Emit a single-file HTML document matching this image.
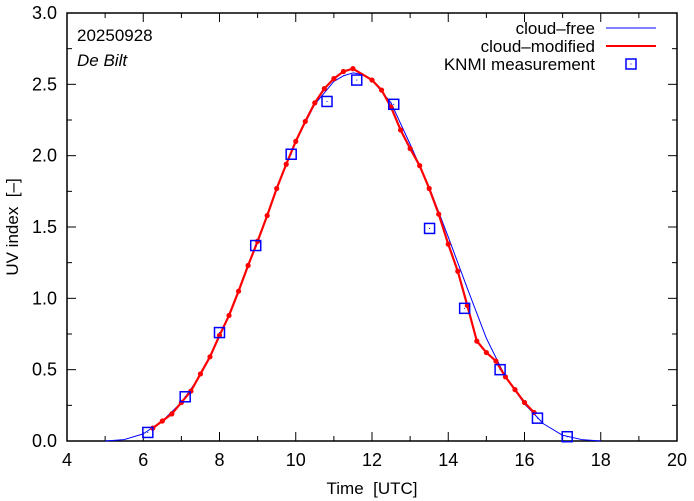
<!DOCTYPE html>
<html><head><meta charset="utf-8"><style>
html,body{margin:0;padding:0;background:#fff;}
svg{display:block;font-family:"Liberation Sans",sans-serif;}
</style></head><body>
<svg id="chart" width="694" height="501" viewBox="0 0 694 501" xmlns="http://www.w3.org/2000/svg">
<rect x="0" y="0" width="694" height="501" fill="#fff"/>
<g id="axes"></g>
<g id="series"></g>
<text x="77" y="41" font-size="17" fill="#000">20250928</text>
<text x="77" y="66" font-size="17" font-style="italic" fill="#000">De Bilt</text>
<text x="372" y="494" font-size="17" text-anchor="middle" fill="#000" xml:space="preserve">Time  [UTC]</text>
<text transform="translate(18,227) rotate(-90)" font-size="17" text-anchor="middle" fill="#000" xml:space="preserve">UV index  [–]</text>
<g>
<text x="595" y="34" font-size="17" text-anchor="end">cloud–free</text>
<line x1="606" y1="28" x2="656" y2="28" stroke="#0000ff" stroke-width="1"/>
<text x="595" y="52" font-size="17" text-anchor="end">cloud–modified</text>
<line x1="606" y1="46" x2="656" y2="46" stroke="#ff0000" stroke-width="2"/>
<text x="595" y="70" font-size="17" text-anchor="end">KNMI measurement</text>
<rect x="626" y="59" width="10" height="10" fill="none" stroke="#0000ff" stroke-width="1.5"/>
<rect x="630.5" y="63.5" width="1" height="1" fill="#0000ff"/>
</g>
</svg>
<script>
const xTicks=[4,6,8,10,12,14,16,18,20];
const yTicks=[0.0,0.5,1.0,1.5,2.0,2.5,3.0];
const clearTimes=[5.0,5.5,6.0,6.5,7.0,7.5,8.0,8.5,9.0,9.5,10.0,10.5,11.0,11.25,11.5,11.75,12.0,12.5,13.0,13.5,14.0,14.5,15.0,15.5,16.0,16.5,17.0,17.5,18.0];
const clearUV=[0.0,0.01,0.05,0.14,0.27,0.46,0.73,1.05,1.40,1.77,2.10,2.36,2.52,2.56,2.58,2.57,2.53,2.37,2.08,1.78,1.43,1.07,0.72,0.45,0.26,0.12,0.04,0.01,0.0];
const cloudTimes=[6.25,6.5,6.75,7.0,7.25,7.5,7.75,8.0,8.25,8.5,8.75,9.0,9.25,9.5,9.75,10.0,10.25,10.5,10.75,11.0,11.25,11.5,12.0,12.25,12.5,12.75,13.0,13.25,13.5,13.75,14.0,14.25,14.5,14.75,15.0,15.25,15.5,15.75,16.0,16.25];
const cloudUV=[0.09,0.14,0.19,0.27,0.35,0.47,0.59,0.74,0.88,1.05,1.23,1.40,1.58,1.77,1.94,2.10,2.24,2.37,2.47,2.54,2.59,2.61,2.53,2.46,2.34,2.18,2.05,1.93,1.77,1.59,1.38,1.19,0.95,0.70,0.62,0.56,0.45,0.36,0.27,0.20];
const measTimes=[6.12,7.10,8.0,8.95,9.88,10.82,11.6,12.57,13.51,14.43,15.36,16.34,17.12];
const measUV=[0.06,0.31,0.76,1.37,2.01,2.38,2.53,2.36,1.49,0.93,0.50,0.16,0.03];

const L=67,R=677,T=13,B=441;
const xS=v=>L+(v-4)/16*(R-L);
const yS=v=>B-v/3*(B-T);
const NS='http://www.w3.org/2000/svg';
function mk(tag,attrs,parent){const e=document.createElementNS(NS,tag);for(const k in attrs)e.setAttribute(k,attrs[k]);parent.appendChild(e);return e;}
const axes=document.getElementById('axes');
const series=document.getElementById('series');
for(let v=4;v<=20;v+=1){
  const x=xS(v);const len=(v%2===0)?9:5;
  const t1=mk('line',{x1:x,y1:B,x2:x,y2:B-len,stroke:'#000','stroke-width':1},axes);
  
  
  const t2=mk('line',{x1:x,y1:T,x2:x,y2:T+len,stroke:'#000','stroke-width':1},axes);
  
  
}
for(let i=0;i<=12;i++){
  const v=i*0.25;const y=yS(v);const len=(i%2===0)?9:5;
  const t1=mk('line',{x1:L,y1:y,x2:L+len,y2:y,stroke:'#000','stroke-width':1},axes);
  
  
  const t2=mk('line',{x1:R,y1:y,x2:R-len,y2:y,stroke:'#000','stroke-width':1},axes);
  
  
}
xTicks.forEach(v=>{
  const t=mk('text',{x:xS(v),y:B+25,'font-size':18,'text-anchor':'middle'},axes);
  t.textContent=String(v);
  
  
});
yTicks.forEach(v=>{
  const t=mk('text',{x:L-10,y:yS(v)+6,'font-size':18,'text-anchor':'end'},axes);
  t.textContent=v.toFixed(1);
  
  
});
const frame=mk('rect',{x:L,y:T,width:R-L,height:B-T,fill:'none',stroke:'#000','stroke-width':1.5},axes);



const clearPts=clearTimes.map((t,i)=>xS(t)+','+yS(clearUV[i])).join(' ');
const cl=mk('polyline',{points:clearPts,fill:'none',stroke:'#0000ff','stroke-width':1,'stroke-linejoin':'round'},series);



const cloudPts=cloudTimes.map((t,i)=>xS(t)+','+yS(cloudUV[i])).join(' ');
const cm=mk('polyline',{points:cloudPts,fill:'none',stroke:'#ff0000','stroke-width':2.2,'stroke-linejoin':'round'},series);


cloudTimes.forEach((t,i)=>{
  const c=mk('circle',{cx:xS(t),cy:yS(cloudUV[i]),r:2.6,fill:'#ff0000'},series);
  
  
});
measTimes.forEach((t,i)=>{
  const x=xS(t),y=yS(measUV[i]);
  const s=mk('rect',{x:x-5,y:y-5,width:10,height:10,fill:'none',stroke:'#0000ff','stroke-width':1.5},series);
  
  
  const d=mk('rect',{x:x-0.5,y:y-0.5,width:1,height:1,fill:'#0000ff'},series);
  
  
});
</script>
</body></html>
